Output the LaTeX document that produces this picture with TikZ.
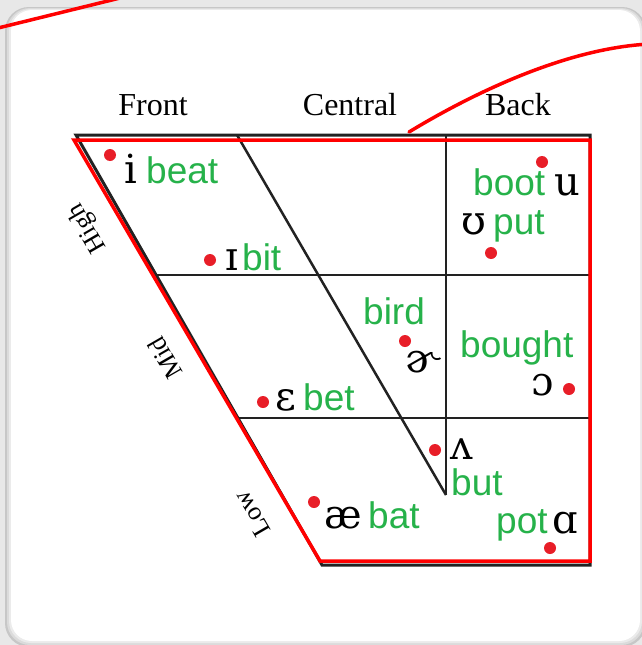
\documentclass[tikz,border=0pt]{standalone}
\usepackage{fontspec}
\setmainfont{Liberation Serif}
\newfontfamily\grfont{Liberation Sans}
\newfontfamily\ipafont{DejaVu Serif}
\definecolor{wordgreen}{RGB}{38,178,74}
\definecolor{dotred}{RGB}{232,30,40}
\definecolor{markred}{RGB}{255,0,0}
\definecolor{linegray}{RGB}{34,34,34}
\definecolor{pagegray}{RGB}{232,232,232}
\tikzset{
  hdr/.style={font=\fontsize{32}{36}\selectfont, anchor=base, inner sep=0pt},
  side/.style={font=\fontsize{26}{30}\selectfont, rotate=120, inner sep=0pt},
  ipa/.style={font=\ipafont\fontsize{40}{44}\selectfont, anchor=base west, inner sep=0pt},
  word/.style={font=\grfont\fontsize{37}{40}\selectfont, text=wordgreen, anchor=base west, inner sep=0pt},
  reddot/.style={circle, fill=dotred, minimum size=12pt, inner sep=0pt},
  gridline/.style={draw=linegray, line width=2.5pt},
  redmark/.style={draw=markred, line width=3.5pt, line join=miter},
}
\begin{document}
\begin{tikzpicture}[x=1pt,y=-1pt]
\useasboundingbox (0,0) rectangle (642,645);
\clip (0,0) rectangle (642,645);
% page and card
\fill[pagegray] (0,0) rectangle (642,645);
\fill[black!22, rounded corners=24pt] (5,7) rectangle (646,647);
\fill[black!14, rounded corners=23pt] (7,8) rectangle (644,645);
\fill[black!8, rounded corners=22pt] (9,9) rectangle (642,643);
\fill[white, rounded corners=21pt] (11,10) rectangle (640,641);

% chart frame (black)
\coordinate (tl) at (76,135);
\coordinate (tr) at (590,135);
\coordinate (br) at (590,565);
\coordinate (bl) at (322,565);
\coordinate (m1l) at (156.5,275);
\coordinate (m1r) at (590,275);
\coordinate (m2l) at (238.5,418);
\coordinate (m2r) at (590,418);
\coordinate (vt) at (446,135);
\coordinate (vb) at (446,495);
\coordinate (dt) at (237,135);
\draw[gridline, line width=3pt] (tl) -- (tr) -- (br) -- (bl) -- cycle;
\draw[gridline] (m1l) -- (m1r);
\draw[gridline] (m2l) -- (m2r);
\draw[gridline] (vt) -- (vb);
\draw[gridline] (dt) -- (vb);

% red overlay
\coordinate (rtl) at (74,140);
\coordinate (rtr) at (590,140);
\coordinate (rbr) at (590,561);
\coordinate (rbl) at (320,561);
\draw[redmark] (rtl) -- (rtr) -- (rbr) -- (rbl) -- cycle;
\coordinate (c1a) at (-10,30);
\coordinate (c1b) at (120,-2);
\draw[redmark] (c1a) -- (c1b);
\coordinate (c2a) at (409,132);
\coordinate (c2b) at (650,44);
\draw[redmark, line cap=round] (c2a) .. controls (470,95) and (565,48) .. (c2b);

% headers
\node[hdr] (front) at (153,115) {Front};
\node[hdr] (central) at (350,115) {Central};
\node[hdr] (back) at (518,115) {Back};

% side labels
\node[side] (high) at (88,228) {High};
\node[side] (mid) at (165,358) {Mid};
\node[side] (low) at (252,514) {Low};

% vowels
\node[reddot] (d1) at (110,155) {};
\node[ipa] (i) at (124,183) {i};
\node[word] (beat) at (146,183) {beat};

\node[reddot] (d2) at (210,260) {};
\node[ipa] (I) at (225,270) {ɪ};
\node[word] (bit) at (242,270) {bit};

\node[word] (boot) at (473,195) {boot};
\node[ipa] (u) at (554,195) {u};
\node[reddot] (d3) at (542,162) {};

\node[ipa] (U) at (461,234) {ʊ};
\node[word] (put) at (493,234) {put};
\node[reddot] (d4) at (491,253) {};

\node[word] (bird) at (363,324) {bird};
\node[reddot] (d5) at (405,341) {};
\node[ipa] (schwar) at (405,372) {ɚ};

\node[word] (bought) at (460,357) {bought};
\node[ipa] (open) at (531,395) {ɔ};
\node[reddot] (d6) at (569,389) {};

\node[reddot] (d7) at (263,402) {};
\node[ipa] (E) at (275,410) {ɛ};
\node[word] (bet) at (303,410) {bet};

\node[reddot] (d8) at (435,450) {};
\node[ipa] (wedge) at (450,459) {ʌ};
\node[word] (but) at (451,495) {but};

\node[reddot] (d9) at (314,502) {};
\node[ipa] (ae) at (324,528) {æ};
\node[word] (bat) at (368,528) {bat};

\node[word] (pot) at (496,533) {pot};
\node[ipa] (A) at (552,533) {ɑ};
\node[reddot] (d10) at (550,548) {};
\end{tikzpicture}
\end{document}
